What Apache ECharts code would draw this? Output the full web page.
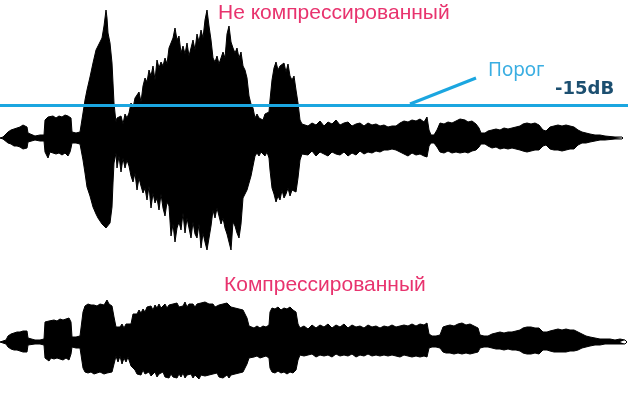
<!DOCTYPE html>
<html>
<head>
<meta charset="utf-8">
<script src="https://cdn.jsdelivr.net/npm/echarts@6/dist/echarts.min.js"></script>
<style>
  html, body { margin: 0; padding: 0; background: #fff; }
  #chart { width: 628px; height: 407px; }
</style>
</head>
<body>
<div id="chart"></div>
<script>
  // время (условные отсчёты) и огибающие: вверх / вниз от нуля
  var timeTop = [0,3,5,8,11,14,17,20,23,25,27,28,29,35,40,44,45,46,48,50,53,56,59,62,65,68,70,71,72,76,80,82,83,85,87,90,93,96,98,100,102,104,106,107,108,110,112,113,114,115,116,117,119,121,123,125,127,129,131,133,135,137,139,141,143,145,147,149,151,153,155,157,159,161,163,165,167,169,171,173,175,177,179,181,183,185,187,189,191,193,195,197,199,201,203,205,207,209,211,213,215,217,219,221,223,225,227,229,231,233,235,237,239,241,243,245,247,249,251,253,255,257,259,261,263,265,267,269,270,272,274,276,278,280,282,284,286,288,290,292,294,296,298,300,302,304,308,312,316,320,324,328,332,336,340,344,348,352,356,360,364,368,372,376,380,384,388,392,396,400,404,408,412,416,420,424,427,429,431,434,437,440,444,448,452,456,460,462,465,468,472,476,479,481,485,488,492,496,500,504,508,512,516,520,523,527,531,535,539,543,546,550,554,558,562,566,570,574,578,582,586,590,595,600,605,607,615,622,623];
  var upTop = [0,1,3,6,8,9,10,11,13,14,11,5,3,2,3,3,18,20,21,19,22,20,22,21,23,22,24,20,6,5,6,8,25,38,48,61,75,88,92,91,100,112,128,120,105,95,75,55,35,25,16,20,18,22,14,24,20,25,35,30,40,38,46,36,52,60,56,68,62,72,58,78,70,76,72,80,74,90,95,100,110,98,102,85,92,84,95,82,90,98,88,104,96,108,100,118,128,112,98,80,76,82,74,72,86,80,104,112,96,90,85,90,80,86,72,68,60,42,34,30,20,24,20,22,18,24,22,26,38,58,70,76,68,72,70,75,66,74,62,58,62,48,35,18,14,16,12,15,13,17,12,16,14,18,13,15,16,12,14,15,12,15,13,14,12,13,11,12,12,15,17,16,18,17,19,16,21,8,3,3,8,15,14,16,15,17,19,21,18,16,17,14,10,5,5,7,8,9,8,10,9,10,11,12,14,15,14,15,13,8,7,11,12,13,12,13,12,11,8,6,5,4,3,3,2,1,1,1,0];
  var downTop = [0,1,3,5,6,8,8,9,11,12,10,4,3,2,3,3,14,16,20,14,15,16,15,17,15,18,14,10,5,5,6,8,22,35,49,58,69,76,80,82,86,88,90,89,92,85,69,45,25,20,15,30,18,34,20,30,22,28,38,44,35,52,40,48,55,50,62,48,70,55,65,60,72,56,70,78,64,68,98,86,104,90,84,92,75,95,80,90,100,84,96,100,86,110,95,104,112,100,88,72,80,70,68,86,80,90,96,104,112,84,88,95,100,86,60,56,52,45,38,28,18,15,18,14,16,18,14,20,32,50,56,64,58,62,52,60,56,50,58,52,50,54,40,22,16,14,17,13,18,14,16,18,14,16,17,14,18,15,17,13,16,14,15,13,14,12,12,11,12,14,16,18,15,17,16,18,19,8,5,5,9,14,15,13,15,14,15,13,14,15,13,12,9,6,6,8,10,9,11,10,11,10,11,12,13,14,13,12,12,8,7,11,12,12,13,12,11,11,7,5,5,4,3,2,2,1,1,1,0];

  var timeBot = [0,3,6,8,11,14,17,20,23,25,27,28,29,35,40,44,45,47,49,51,54,57,60,63,66,69,71,72,76,80,82,83,85,88,91,94,97,100,104,107,109,112,114,116,118,120,122,124,126,128,131,133,135,137,139,141,143,145,147,149,151,153,155,157,159,161,163,165,167,169,171,173,175,177,179,181,183,185,187,189,191,193,195,197,199,201,203,205,207,209,211,213,215,217,219,221,223,225,227,229,231,233,235,237,239,241,243,245,247,249,251,254,257,260,263,266,269,270,272,275,278,281,284,287,290,293,296,298,300,304,308,312,316,320,324,328,332,336,340,344,348,352,356,360,364,368,372,376,380,384,388,392,396,400,404,408,412,416,420,424,427,429,432,436,440,443,446,450,454,458,462,466,470,474,478,480,484,488,492,496,500,504,508,512,516,520,523,527,531,535,539,543,547,550,554,558,562,566,570,574,578,582,586,590,595,600,605,610,615,620,625,627];
  var upBot = [0,1,2,6,8,9,10,10,11,13,11,4,3,2,2,3,20,22,21,20,22,21,23,22,23,24,20,5,5,6,8,30,36,38,37,37,36,38,37,42,38,36,25,15,17,15,18,14,18,16,18,28,30,28,32,29,33,30,35,33,36,32,37,34,38,34,36,38,34,37,35,38,36,39,35,37,36,40,35,38,36,38,35,38,36,39,37,40,42,38,36,38,35,34,37,35,38,36,39,37,35,37,34,36,33,35,32,30,24,16,15,14,16,14,16,15,17,30,34,33,35,32,34,33,35,32,30,18,14,16,13,17,14,17,15,18,14,17,15,18,14,17,15,16,14,17,15,16,14,16,15,17,15,16,17,16,18,16,18,17,19,8,6,6,7,15,16,17,16,18,19,17,18,16,14,7,6,6,8,9,10,9,10,10,11,12,14,15,15,14,14,10,10,11,12,13,12,13,12,12,10,8,6,5,4,3,3,3,2,3,2,0];
  var downBot = [0,1,2,5,7,8,8,9,10,11,10,3,3,2,2,3,16,18,19,16,17,16,17,18,16,18,12,5,6,6,7,26,30,31,30,32,31,30,32,31,30,30,22,14,20,14,22,16,20,15,24,26,28,32,30,33,28,32,34,30,34,32,30,35,32,34,30,35,33,36,32,35,33,36,32,35,31,36,33,35,32,36,33,34,37,33,35,34,36,33,35,32,34,31,35,33,36,34,33,36,33,35,32,34,31,33,30,28,22,16,14,15,14,16,15,14,16,26,30,31,29,31,30,32,30,31,28,18,13,14,13,12,15,13,14,13,15,12,14,13,14,12,15,13,14,12,14,13,14,13,14,13,14,15,13,14,15,14,15,14,15,6,5,5,6,10,11,11,12,11,12,11,12,11,10,6,5,5,6,7,7,8,7,8,8,9,11,12,12,11,12,8,8,9,10,10,10,10,9,9,8,6,5,4,3,3,2,2,2,2,2,0];

  var threshold = 33;       // -15dB
  var thresholdLabel = '-15dB';

  function pairs(t, v, sign) {
    return t.map(function (x, i) { return [x, sign * v[i]]; });
  }

  function wave(idx, t, v, sign, extra) {
    var s = {
      type: 'line',
      xAxisIndex: idx,
      yAxisIndex: idx,
      data: pairs(t, v, sign),
      symbol: 'none',
      silent: true,
      lineStyle: { color: '#000', width: 1 },
      areaStyle: { color: '#000', opacity: 1, origin: 0 },
      z: 2
    };
    if (extra) { for (var k in extra) s[k] = extra[k]; }
    return s;
  }

  var chart = echarts.init(document.getElementById('chart'));

  var blue = '#1ba6e0';
  var pink = '#e8336e';

  chart.setOption({
    animation: false,
    backgroundColor: '#fff',
    grid: [
      { left: 0, right: 0, top: 0, height: 276 },
      { left: 0, right: 0, top: 282, height: 120 }
    ],
    xAxis: [
      { type: 'value', gridIndex: 0, min: 0, max: 628, show: false },
      { type: 'value', gridIndex: 1, min: 0, max: 628, show: false }
    ],
    yAxis: [
      { type: 'value', gridIndex: 0, min: -138, max: 138, show: false },
      { type: 'value', gridIndex: 1, min: -60, max: 60, show: false }
    ],
    series: [
      wave(0, timeTop, upTop, 1, {
        markLine: {
          silent: true,
          symbol: ['none', 'none'],
          label: { show: false },
          lineStyle: { color: blue, width: 3, type: 'solid' },
          z: 5,
          data: [
            { yAxis: threshold },
            [{ coord: [410, threshold + 1] }, { coord: [476, 60] }]
          ]
        }
      }),
      wave(0, timeTop, downTop, -1),
      wave(1, timeBot, upBot, 1),
      wave(1, timeBot, downBot, -1)
    ],
    graphic: [
      {
        type: 'text', x: 218, y: 3, z: 10,
        style: { text: 'Не компрессированный', fill: pink, font: '21px "Liberation Sans", Arial, sans-serif' }
      },
      {
        type: 'text', x: 224, y: 275, z: 10,
        style: { text: 'Компрессированный', fill: pink, font: '21px "Liberation Sans", Arial, sans-serif' }
      },
      {
        type: 'text', x: 488, y: 61, z: 10,
        style: { text: 'Порог', fill: '#3aaee2', font: '19px "Noto Sans", sans-serif' }
      },
      {
        type: 'text', x: 555, y: 80, z: 10,
        style: { text: thresholdLabel, fill: '#1c4f70', font: 'bold 18px "DejaVu Sans", sans-serif' }
      }
    ]
  });
</script>
</body>
</html>
